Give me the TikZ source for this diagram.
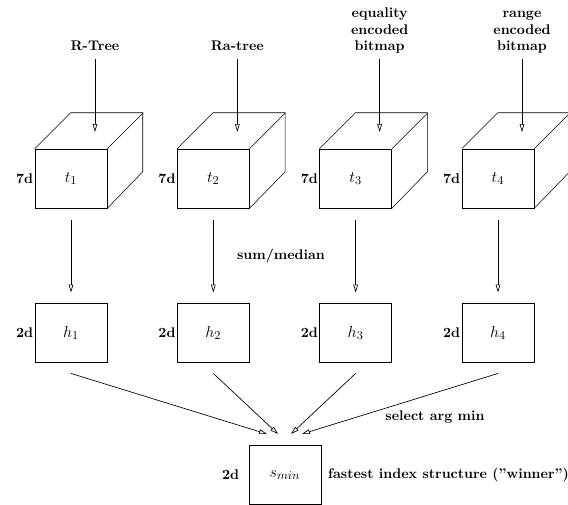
\documentclass[tikz,border=0pt]{standalone}
\usetikzlibrary{arrows.meta}
\begin{document}
\begin{tikzpicture}[x=0.75pt,y=-0.75pt,>={Triangle[open,length=6pt,width=3.5pt]},
  face/.style={draw,minimum width=54pt,minimum height=44.25pt,inner sep=0pt,
    font=\fontsize{12.5}{15}\selectfont},
  tag/.style={font=\fontsize{10.5}{12.5}\selectfont\bfseries,inner sep=1pt},
  edge/.style={->,line width=0.5pt}]
\useasboundingbox (0,0) rectangle (568,504);
% the four cubes t_i, their inputs and the reduced boxes h_i
\foreach \i/\name in {1/R-Tree,2/Ra-tree,3/{equality\\encoded\\bitmap},4/{range\\encoded\\bitmap}}{
  \pgfmathsetmacro\cx{71+142.33*(\i-1)}
  \node[face] (t\i) at (\cx,178.5) {$t_\i$};
  \draw (t\i.north west) -- ++(36,-36) -- ++(72,0) -- ++(0,59) -- (t\i.south east);
  \draw (t\i.north east) -- ++(36,-36);
  \node[tag,anchor=east] at (t\i.west) {7d};
  \node[tag,align=center,anchor=south,text depth=0pt,inner sep=0pt] (lab\i) at (\cx+24,51) {\name};
  \coordinate (tip\i) at (\cx+24,132);
  \draw[edge,shorten <=6pt] (lab\i) -- (tip\i);
  \node[face] (h\i) at (\cx,333) {$h_\i$};
  \node[tag,anchor=east] at (h\i.west) {2d};
  \draw[edge,shorten <=9pt,shorten >=8pt] (t\i) -- (h\i);
}
\node[tag] (agg) at (281,256) {sum/median};
% the winner
\node[face] (s) at (285,475) {$s_{min}$};
\node[tag,left=6pt] at (s.west) {2d};
\node[tag,right=4pt] at (s.east) {fastest index structure (''winner'')};
\foreach \i/\dx in {1/-18,2/-7,3/6,4/17}{
  \coordinate (e\i) at (285+\dx,434);
  \draw[edge] ([yshift=-8pt]h\i.south) -- (e\i);
}
\node[tag] (sel) at (435,417) {select arg min};
\end{tikzpicture}
\end{document}
